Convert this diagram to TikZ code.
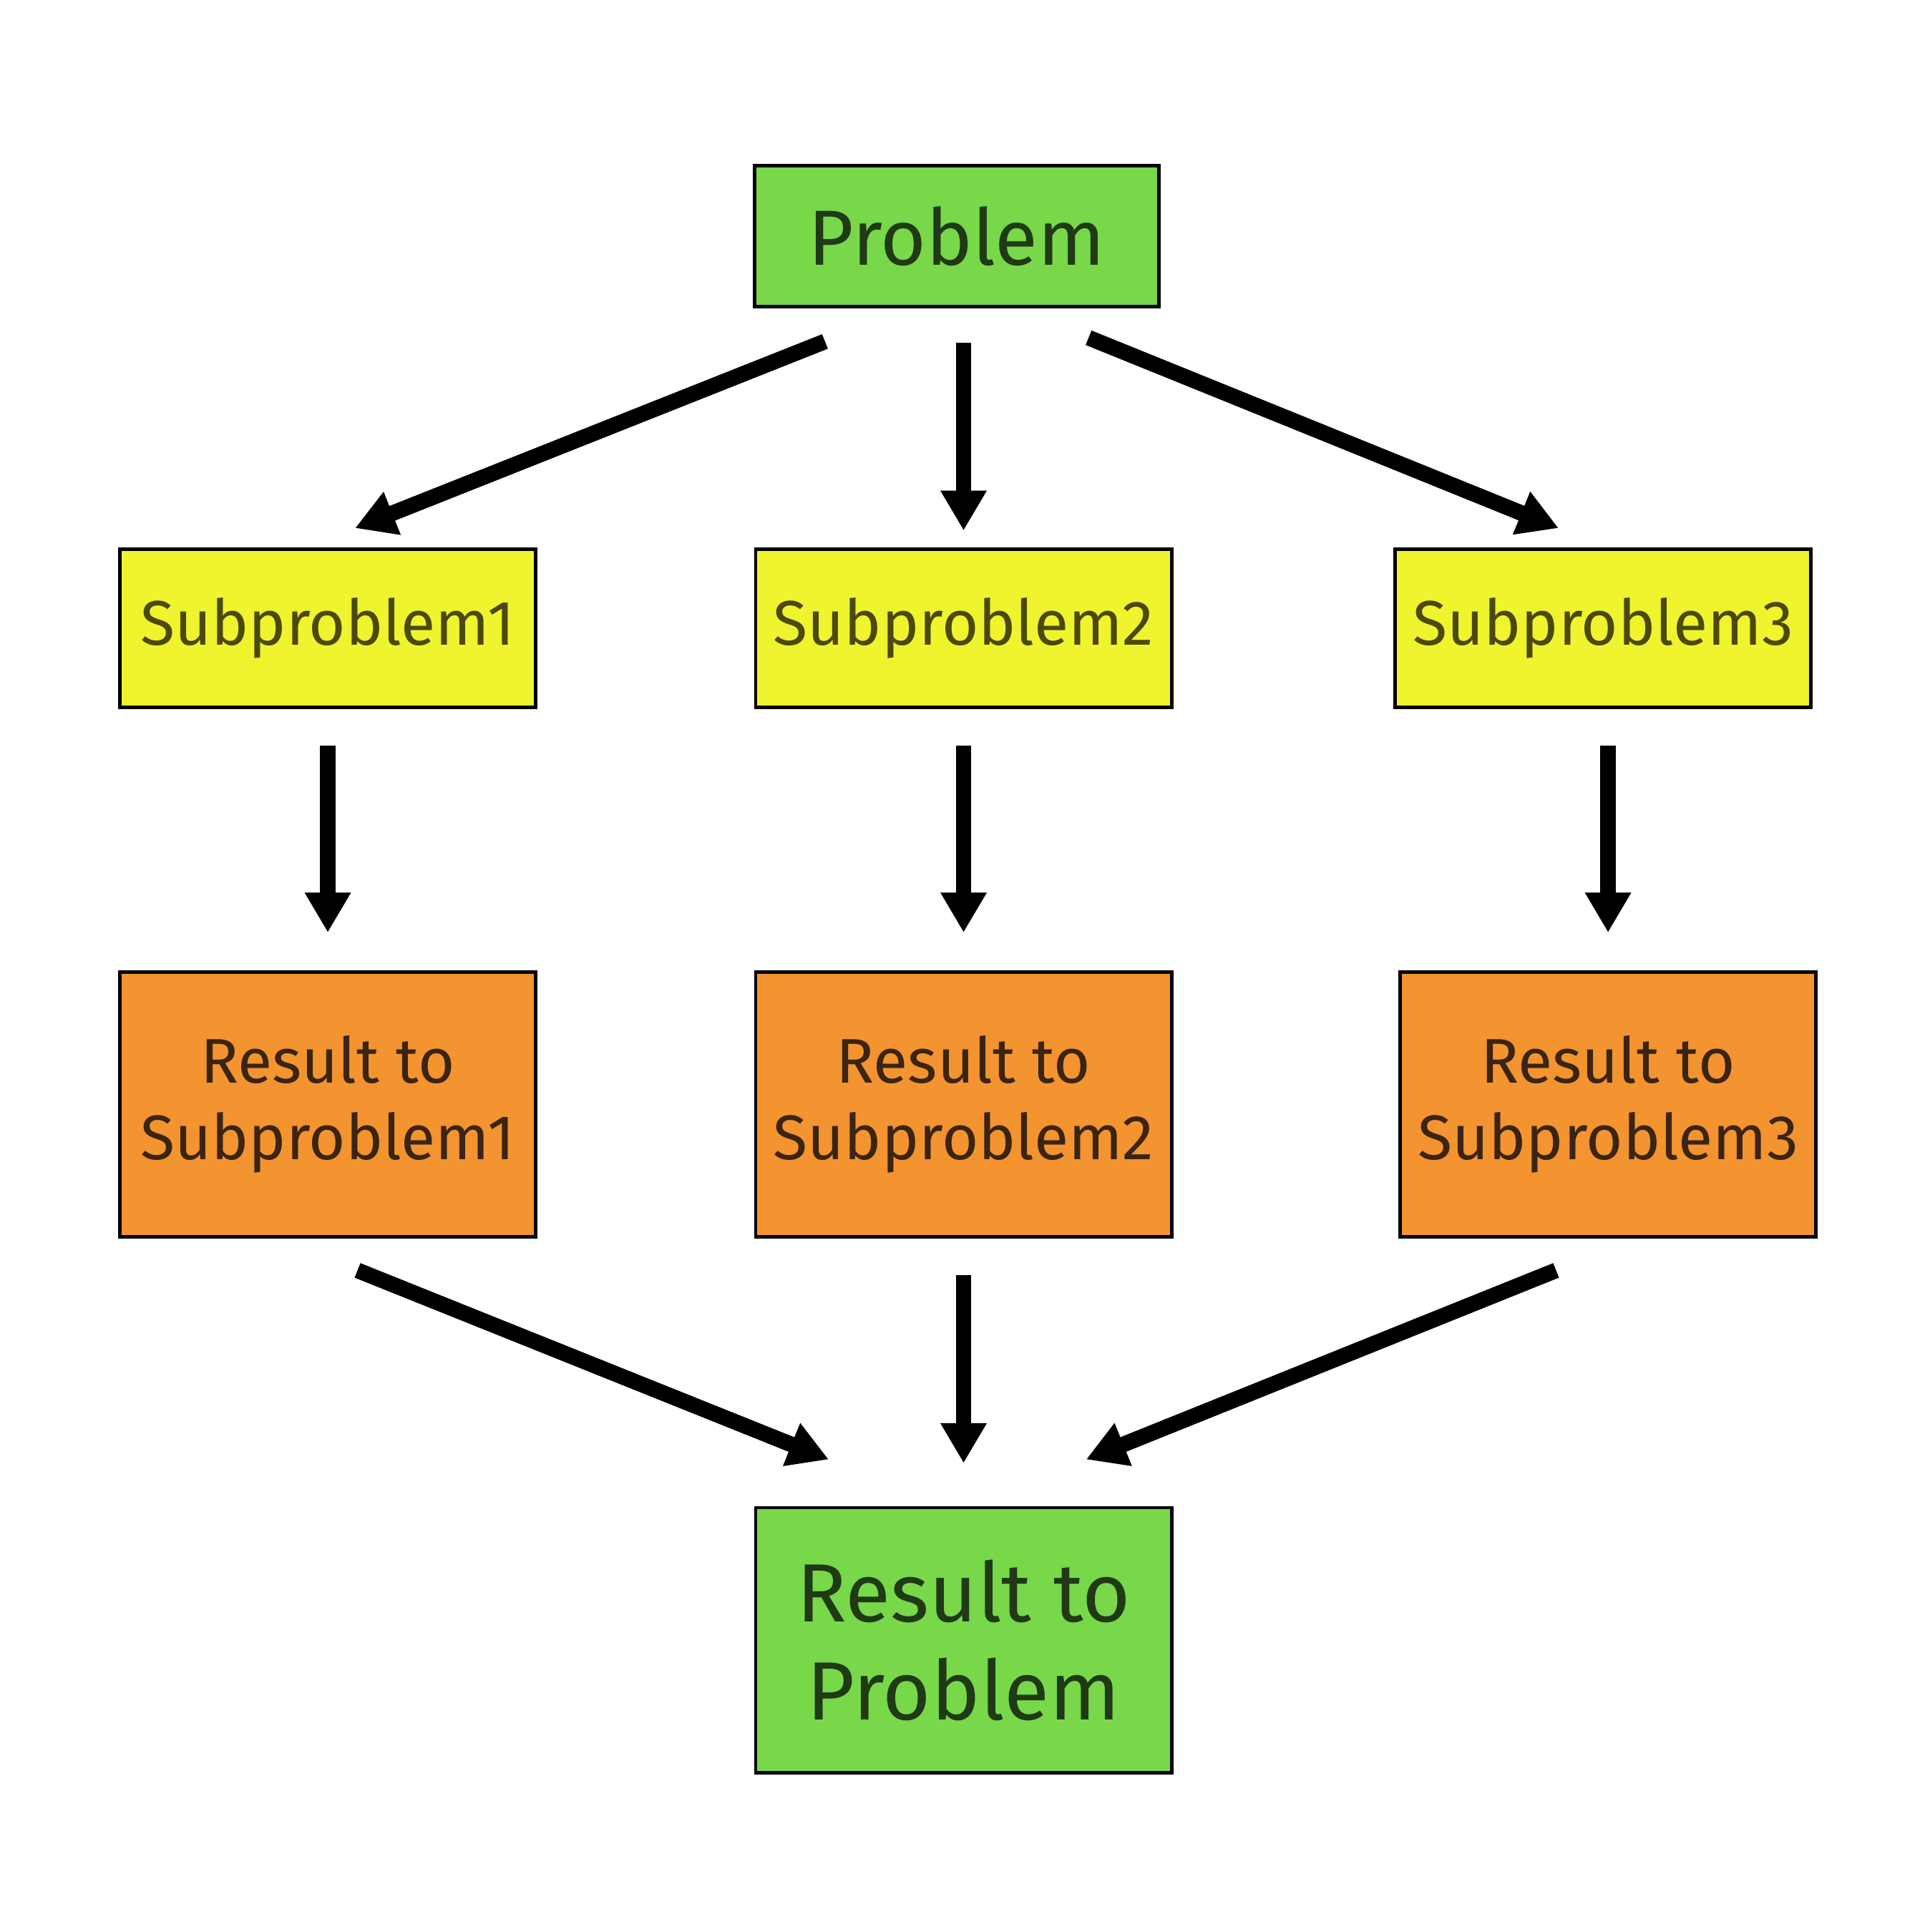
\documentclass[tikz,border=0pt]{standalone}
\usepackage{fontspec}
\setmainfont{Fira Sans}
\usetikzlibrary{arrows.meta}
\definecolor{gruen}{HTML}{78D84A}
\definecolor{gelb}{HTML}{F0F42E}
\definecolor{orange}{HTML}{F39430}
\definecolor{tgruen}{HTML}{1F3A14}
\definecolor{tgelb}{HTML}{4B4A0C}
\definecolor{torange}{HTML}{3B2412}

\begin{document}
\begin{tikzpicture}[x=0.01cm,y=-0.01cm,
  box/.style={draw=black,line width=0.8pt,inner sep=0pt,outer sep=0pt,align=center,minimum width=3.36cm},
  arr/.style={line width=3.6pt,-{Triangle[width=10pt,length=9.2pt]}}]
\useasboundingbox (0,0) rectangle (1560,1562);

%Knoten
\node[box,fill=gruen,text=tgruen,minimum width=3.27cm,minimum height=1.14cm,font=\fontsize{18}{21}\selectfont] (prob) at (773.5,191) {Problem};
\node[box,fill=gelb,text=tgelb,minimum height=1.28cm,font=\fontsize{14.5}{17}\selectfont] (sub1) at (265,508) {Subproblem1};
\node[box,fill=gelb,text=tgelb,minimum height=1.28cm,font=\fontsize{14.5}{17}\selectfont] (sub2) at (779,508) {Subproblem2};
\node[box,fill=gelb,text=tgelb,minimum height=1.28cm,font=\fontsize{14.5}{17}\selectfont] (sub3) at (1296,508) {Subproblem3};
\node[box,fill=orange,text=torange,minimum height=2.14cm,font=\fontsize{14.5}{17.6}\selectfont] (res1) at (265,893) {Result to\\Subproblem1};
\node[box,fill=orange,text=torange,minimum height=2.14cm,font=\fontsize{14.5}{17.6}\selectfont] (res2) at (779,893) {Result to\\Subproblem2};
\node[box,fill=orange,text=torange,minimum height=2.14cm,font=\fontsize{14.5}{17.6}\selectfont] (res3) at (1300,893) {Result to\\Subproblem3};
\node[box,fill=gruen,text=tgruen,minimum height=2.14cm,font=\fontsize{19}{22.5}\selectfont] (resp) at (779,1326) {Result to\\Problem};

%Pfeile
\draw[arr] ([xshift=0.57cm,yshift=-0.28cm]prob.south west) -- ([xshift=0.22cm,yshift=0.17cm]sub1.north);
\draw[arr,shorten <=0.29cm,shorten >=0.15cm] (prob.south -| sub2) -- (sub2.north);
\draw[arr] ([xshift=-0.57cm,yshift=-0.25cm]prob.south east) -- ([xshift=-0.36cm,yshift=0.17cm]sub3.north);
\draw[arr,shorten <=0.31cm,shorten >=0.32cm] (sub1) -- (res1);
\draw[arr,shorten <=0.31cm,shorten >=0.32cm] (sub2) -- (res2);
\draw[arr,shorten <=0.31cm,shorten >=0.32cm] (sub3.south -| res3) -- (res3.north);
\draw[arr] ([xshift=0.24cm,yshift=-0.27cm]res1.south) -- ([xshift=-1.09cm,yshift=0.39cm]resp.north);
\draw[arr,shorten <=0.31cm,shorten >=0.36cm] (res2) -- (resp);
\draw[arr] ([xshift=-0.42cm,yshift=-0.27cm]res3.south) -- ([xshift=0.99cm,yshift=0.39cm]resp.north);
\end{tikzpicture}
\end{document}
